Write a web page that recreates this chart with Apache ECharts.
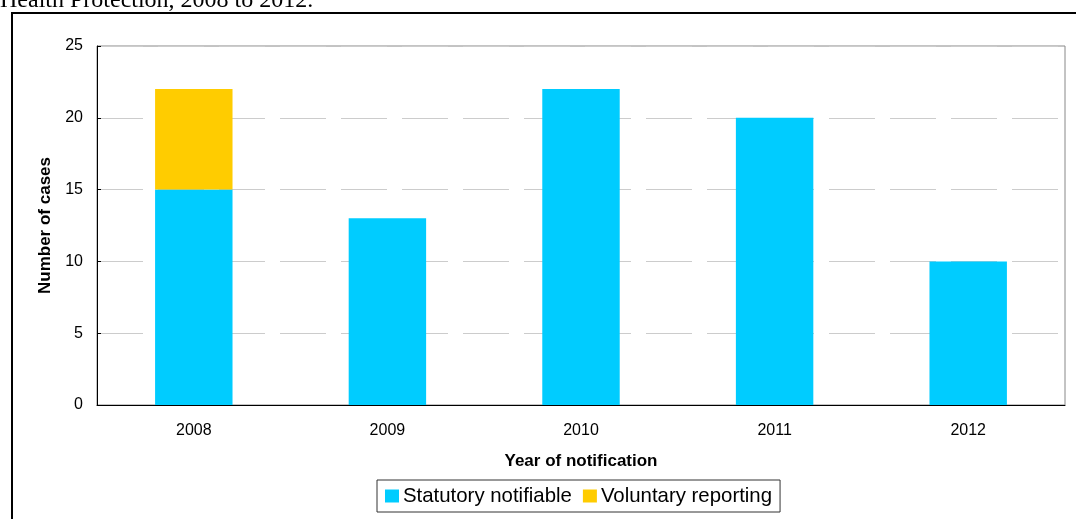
<!DOCTYPE html>
<html>
<head>
<meta charset="utf-8">
<script src="https://cdn.jsdelivr.net/npm/echarts@6/dist/echarts.min.js"></script>
<style>
	body {
		margin: 0;
		background: #fff;
	}
	.wrap {
		position: relative;
		width: 1076px;
		height: 519px;
		overflow: hidden;
	}
	.frame {
		position: absolute;
		left: 11px;
		top: 12px;
		width: 1100px;
		height: 540px;
		border-top: 2px solid #000;
		border-left: 2px solid #000;
	}
	#chart {
		position: absolute;
		left: 0;
		top: 0;
		width: 1076px;
		height: 519px;
	}
</style>
</head>
<body>
<div class="wrap">
	<div class="frame"></div>
	<div id="chart"></div>
</div>
<script>
	// 数据
	var years = ['2008', '2009', '2010', '2011', '2012'];
	var statutory = [15, 13, 22, 20, 10];
	var voluntary = [7, 0, 0, 0, 0];
	var yTicks = [0, 5, 10, 15, 20, 25];

	var txt = '#000';
	var myChart = echarts.init(document.getElementById('chart'));
	myChart.setOption({
		animation: false,
		title: {
			text: 'Health Protection, 2008 to 2012.',
			left: 0,
			top: -11,
			padding: 0,
			textStyle: {
				fontFamily: 'Liberation Serif',
				fontSize: 24,
				fontWeight: 'normal',
				color: '#000'
			}
		},
		grid: {
			left: 97,
			right: 11,
			top: 46,
			bottom: 114,
			show: true,
			backgroundColor: '#fff',
			borderColor: '#888',
			borderWidth: 1
		},
		legend: {
			data: ['Statutory notifiable', 'Voluntary reporting'],
			left: 377,
			top: 480,
			orient: 'horizontal',
			borderColor: '#333',
			borderWidth: 1,
			padding: [6, 8, 6, 8],
			itemWidth: 14,
			itemHeight: 13,
			itemGap: 11,
			icon: 'rect',
			textStyle: {
				fontFamily: 'Liberation Sans',
				fontSize: 20.4,
				lineHeight: 20,
				color: txt,
				padding: [0, 0, 0, -1]
			}
		},
		xAxis: {
			type: 'category',
			data: years,
			name: 'Year of notification',
			nameLocation: 'middle',
			nameGap: 48,
			nameTextStyle: {
				fontFamily: 'Liberation Sans',
				fontSize: 17,
				fontWeight: 'bold',
				color: txt
			},
			axisLine: {
				lineStyle: {
					color: '#000',
					width: 1
				}
			},
			axisTick: {
				inside: true,
				length: 4,
				lineStyle: {
					color: '#000'
				}
			},
			axisLabel: {
				margin: 18,
				fontFamily: 'Liberation Sans',
				fontSize: 16,
				color: txt
			}
		},
		yAxis: {
			type: 'value',
			min: yTicks[0],
			max: yTicks[yTicks.length - 1],
			interval: 5,
			name: 'Number of cases',
			nameLocation: 'middle',
			nameGap: 41,
			nameTextStyle: {
				fontFamily: 'Liberation Sans',
				fontSize: 17,
				fontWeight: 'bold',
				color: txt
			},
			axisLine: {
				show: true,
				lineStyle: {
					color: '#000',
					width: 1
				}
			},
			axisTick: {
				show: true,
				inside: true,
				length: 4,
				lineStyle: {
					color: '#000'
				}
			},
			axisLabel: {
				margin: 14,
				fontFamily: 'Liberation Sans',
				fontSize: 16,
				color: txt
			},
			splitLine: {
				lineStyle: {
					color: '#cccccc',
					width: 1,
					type: [46, 15]
				}
			}
		},
		series: [{
			name: 'Statutory notifiable',
			type: 'bar',
			stack: 'all',
			barWidth: '40%',
			data: statutory,
			itemStyle: {
				color: '#00ccff'
			}
		}, {
			name: 'Voluntary reporting',
			type: 'bar',
			stack: 'all',
			barWidth: '40%',
			data: voluntary,
			itemStyle: {
				color: '#ffcc00'
			}
		}]
	});
</script>
</body>
</html>
